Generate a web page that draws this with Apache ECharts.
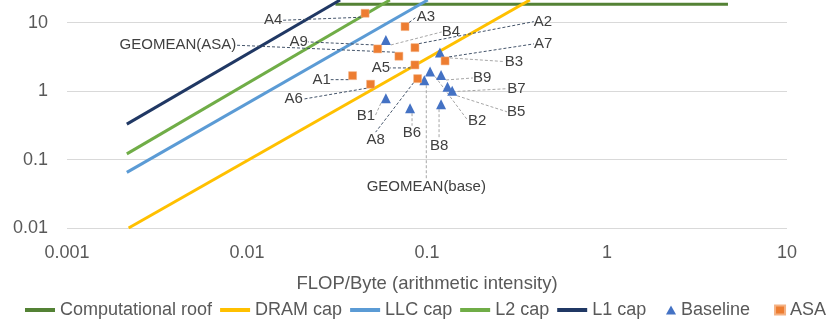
<!DOCTYPE html>
<html>
<head>
<meta charset="utf-8">
<script src="https://cdn.jsdelivr.net/npm/echarts@6/dist/echarts.min.js"></script>
<style>
  html, body { margin: 0; padding: 0; background: #fff; }
  #chart { width: 834px; height: 325px; }
</style>
</head>
<body>
<div id="chart"></div>
<script>
// roofline ceilings (two end points each)
var roofX = [0.031, 4.7];
var roofY = [18.6, 18.6];
var dramX = [0.0022, 0.373];
var dramY = [0.01, 21.4];
var llcX = [0.00215, 0.101];
var llcY = [0.065, 21.4];
var l2X = [0.00215, 0.0622];
var l2Y = [0.121, 21.4];
var l1X = [0.00215, 0.0329];
var l1Y = [0.329, 21.4];

// kernels
var baseNames = ['B1', 'B2', 'B3', 'B4', 'B5', 'B6', 'B7', 'B8', 'B9', 'GEOMEAN(base)'];
var baseX = [0.0591, 0.104, 0.118, 0.0591, 0.138, 0.0805, 0.130, 0.1197, 0.1197, 0.0966];
var baseY = [0.787, 1.93, 3.65, 5.58, 1.01, 0.562, 1.16, 0.644, 1.72, 1.44];

var asaNames = ['A1', 'A2', 'A3', 'A4', 'A5', 'A6', 'A7', 'A8', 'A9', 'GEOMEAN(ASA)'];
var asaX = [0.0386, 0.0857, 0.0755, 0.0453, 0.0857, 0.0486, 0.126, 0.0887, 0.0532, 0.0698];
var asaY = [1.68, 4.31, 8.75, 13.7, 2.41, 1.26, 2.76, 1.52, 4.13, 3.23];

// where the data labels sit, relative to their marker (px)
var baseLabelShift = [[-20, 18], [47, 49], [74, 9], [65, -8], [64, 21], [2, 25], [69, 2], [-2, 42], [41, 3], [2, 107]];
var asaLabelShift = [[-31, 4], [128, -26], [21, -10], [-92, 7], [-34, 3], [-77, 15], [98, -17], [-42, 61], [-79, -7], [-221, -11]];

var FONT = 'Liberation Sans, Arial, sans-serif';
var legendText = { fontSize: 18, color: '#595959', fontFamily: FONT };

function pairs(xs, ys) {
  return xs.map(function (x, i) { return [x, ys[i]]; });
}

function named(names, xs, ys) {
  return names.map(function (n, i) { return { name: n, value: [xs[i], ys[i]] }; });
}

function moveLabel(shift) {
  return function (p) {
    var s = shift[p.dataIndex];
    return {
      x: p.rect.x + p.rect.width / 2 + s[0],
      y: p.rect.y + p.rect.height / 2 + s[1],
      align: 'center',
      verticalAlign: 'middle'
    };
  };
}

function capLine(name, color, xs, ys) {
  return {
    name: name,
    type: 'line',
    data: pairs(xs, ys),
    symbol: 'none',
    clip: true,
    color: color,
    lineStyle: { width: 3, color: color },
    z: 2
  };
}

function tick(v) {
  return String(+v.toPrecision(4));
}

var chart = echarts.init(document.getElementById('chart'));

var option = {
  animation: false,
  textStyle: { fontFamily: FONT },
  grid: { left: 67, right: 47, top: 0, bottom: 97, outerBoundsMode: 'none' },
  legend: [
    {
      top: 301,
      left: 25,
      padding: 0,
      itemWidth: 30,
      itemHeight: 4,
      itemGap: 8,
      icon: 'rect',
      textStyle: legendText,
      data: ['Computational roof', 'DRAM cap', 'LLC cap', 'L2 cap', 'L1 cap']
    },
    {
      top: 301,
      left: 666,
      padding: 0,
      itemWidth: 10,
      itemHeight: 9,
      itemGap: 24,
      textStyle: legendText,
      data: [
        { name: 'Baseline', icon: 'triangle' },
        { name: 'ASA', icon: 'rect' }
      ]
    }
  ],
  xAxis: {
    type: 'log',
    logBase: 10,
    min: 0.001,
    max: 10,
    name: 'FLOP/Byte (arithmetic intensity)',
    nameLocation: 'middle',
    nameGap: 46,
    nameTextStyle: { fontSize: 18.5, color: '#595959', fontFamily: FONT },
    axisLine: { show: false },
    axisTick: { show: false },
    splitLine: { show: false },
    axisLabel: {
      fontSize: 18, color: '#595959', margin: 16,
      showMinLabel: true, showMaxLabel: true,
      formatter: tick
    }
  },
  yAxis: {
    type: 'log',
    logBase: 10,
    min: 0.01,
    max: 21.4,
    name: 'GFLOPS',
    nameLocation: 'middle',
    nameRotate: 90,
    nameGap: 44,
    nameTextStyle: { fontSize: 17, color: '#595959', fontFamily: FONT },
    axisLine: { show: false },
    axisTick: { show: false },
    splitLine: { show: true, showMaxLine: false, lineStyle: { color: '#D9D9D9', width: 1 } },
    axisLabel: {
      fontSize: 18, color: '#595959', margin: 19,
      showMaxLabel: false,
      formatter: tick
    }
  },
  series: [
    capLine('Computational roof', '#548235', roofX, roofY),
    capLine('DRAM cap', '#FFC000', dramX, dramY),
    capLine('LLC cap', '#5B9BD5', llcX, llcY),
    capLine('L2 cap', '#70AD47', l2X, l2Y),
    capLine('L1 cap', '#203864', l1X, l1Y),
    {
      name: 'Baseline',
      type: 'scatter',
      symbol: 'triangle',
      symbolSize: 10,
      itemStyle: { color: '#4472C4', opacity: 1 },
      data: named(baseNames, baseX, baseY),
      label: {
        show: true, formatter: '{b}',
        fontSize: 15, color: '#404040', fontFamily: FONT
      },
      labelLine: {
        show: true,
        lineStyle: { color: '#A6A6A6', width: 1, type: [3, 2] }
      },
      labelLayout: moveLabel(baseLabelShift),
      z: 4
    },
    {
      name: 'ASA',
      type: 'scatter',
      symbol: 'rect',
      symbolSize: 8,
      itemStyle: { color: '#ED7D31', opacity: 1, borderColor: '#F4B183', borderWidth: 0.5 },
      data: named(asaNames, asaX, asaY),
      label: {
        show: true, formatter: '{b}',
        fontSize: 15, color: '#404040', fontFamily: FONT
      },
      labelLine: {
        show: true,
        lineStyle: { color: '#44546A', width: 1, type: [3, 2] }
      },
      labelLayout: moveLabel(asaLabelShift),
      z: 5
    }
  ]
};

chart.setOption(option);
</script>
</body>
</html>
